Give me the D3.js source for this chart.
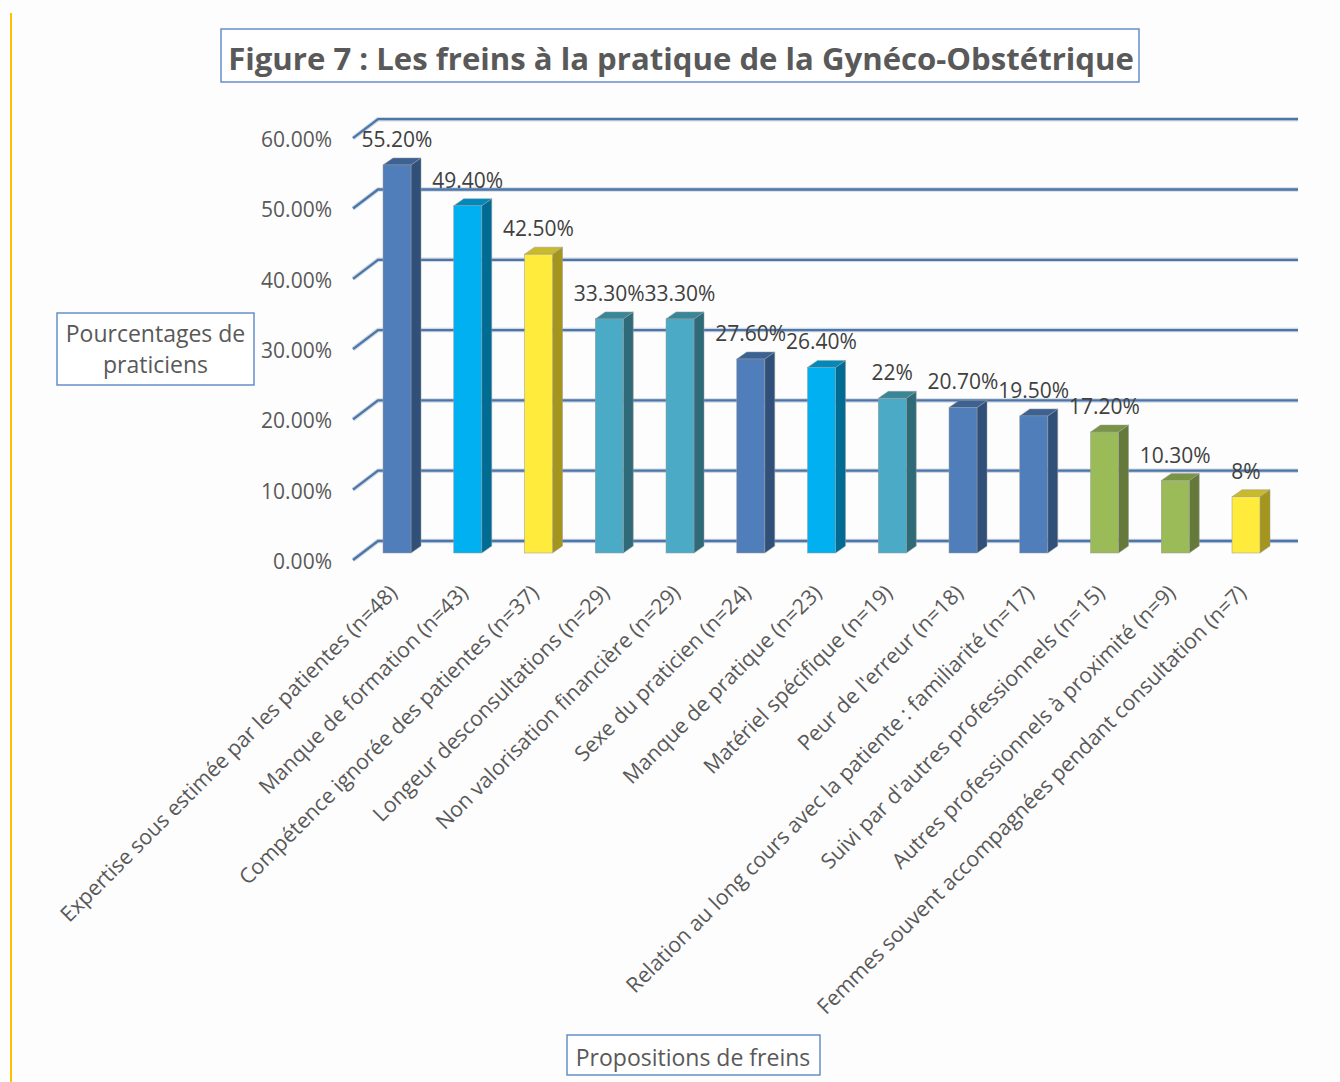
<!DOCTYPE html>
<html>
<head>
<meta charset="utf-8">
<script src="https://cdn.jsdelivr.net/npm/d3@7"></script>
<style>
  body { margin: 0; background: #fff; }
  svg { display: block; font-family: "Open Sans", sans-serif; }
</style>
</head>
<body>
<div id="viz"></div>
<script>
// Les freins à la pratique - 3D-looking column chart
var categories = [
  "Expertise sous estimée par les patientes (n=48)",
  "Manque de formation (n=43)",
  "Compétence ignorée des patientes (n=37)",
  "Longeur desconsultations (n=29)",
  "Non valorisation financière (n=29)",
  "Sexe du praticien (n=24)",
  "Manque de pratique (n=23)",
  "Matériel spécifique (n=19)",
  "Peur de l'erreur (n=18)",
  "Relation au long cours avec la patiente : familiarité (n=17)",
  "Suivi par d'autres professionnels (n=15)",
  "Autres professionnels à proximité (n=9)",
  "Femmes souvent accompagnées pendant consultation (n=7)"
];
var values = [55.2, 49.4, 42.5, 33.3, 33.3, 27.6, 26.4, 22, 20.7, 19.5, 17.2, 10.3, 8];
var valueLabels = ["55.20%", "49.40%", "42.50%", "33.30%", "33.30%", "27.60%", "26.40%",
                   "22%", "20.70%", "19.50%", "17.20%", "10.30%", "8%"];
var colorKeys = ["blue", "cyan", "yellow", "teal", "teal", "blue", "cyan",
                 "teal", "blue", "blue", "green", "green", "yellow"];
var yTicks = [0, 10, 20, 30, 40, 50, 60];

// front / top / side colours for each palette key
var palette = {
  blue:   ["#4F7EBB", "#3C6294", "#30507A"],
  cyan:   ["#00B0F0", "#0089BA", "#006C94"],
  yellow: ["#FFEB3B", "#C9B92C", "#A4951F"],
  teal:   ["#4BAAC6", "#3A8699", "#2E6A78"],
  green:  ["#9BBB59", "#7A9446", "#657A3A"]
};

var W = 1340, H = 1082;
var barW = 28, depthX = 10, depthY = 7;
var baseY = 553;

var svg = d3.select("#viz").append("svg").attr("width", W).attr("height", H);
svg.append("rect").attr("width", W).attr("height", H).attr("fill", "#fdfdfd");

// page margin line
svg.append("line")
  .attr("x1", 11).attr("x2", 11).attr("y1", 13).attr("y2", H)
  .attr("stroke", "#FFC000").attr("stroke-width", 2);

var y = d3.scaleLinear().domain([0, 60]).range([baseY, baseY - 60 * 7.03]);
var x = d3.scalePoint().domain(categories).range([397, 1246]);

// gridlines: small diagonal on the floor side + line on the back wall
var grid = svg.append("g");
yTicks.forEach(function(t) {
  var pts = [[353, y(t) + 7], [378, y(t) - 12], [1298, y(t) - 12]];
  grid.append("polyline").attr("points", pts.join(" "))
    .attr("fill", "none").attr("stroke", "#D3D8E0").attr("stroke-width", 4.5);
  grid.append("polyline").attr("points", pts.join(" "))
    .attr("fill", "none").attr("stroke", "#4A76AC").attr("stroke-width", 2.3);
});

// y axis tick labels
var yAxis = svg.append("g")
  .attr("transform", "translate(332,7)")
  .call(d3.axisLeft(y).tickValues(yTicks).tickSize(0).tickPadding(0)
    .tickFormat(function(d) { return d.toFixed(2) + "%"; }));
yAxis.select(".domain").remove();
yAxis.selectAll("text")
  .attr("font-family", "Open Sans").attr("font-size", 21)
  .attr("fill", "#595959").attr("dy", "0.4em");

// bars
var bars = svg.append("g").selectAll("g").data(categories).join("g");
bars.each(function(c, i) {
  var g = d3.select(this);
  var cx = x(c), top = y(values[i]);
  var col = palette[colorKeys[i]];
  var l = cx - barW / 2, r = cx + barW / 2;
  g.append("polygon")
    .attr("points", [[r, top], [r + depthX, top - depthY], [r + depthX, baseY - depthY], [r, baseY]].join(" "))
    .attr("fill", col[2]).attr("stroke", "#9a9a9a").attr("stroke-width", 0.5);
  g.append("polygon")
    .attr("points", [[l, top], [l + depthX, top - depthY], [r + depthX, top - depthY], [r, top]].join(" "))
    .attr("fill", col[1]).attr("stroke", "#9a9a9a").attr("stroke-width", 0.5);
  g.append("rect")
    .attr("x", l).attr("y", top).attr("width", barW).attr("height", baseY - top)
    .attr("fill", col[0]).attr("stroke", "#9a9a9a").attr("stroke-width", 0.5);
});

// value labels
svg.append("g").selectAll("text").data(categories).join("text")
  .attr("x", function(c) { return x(c); })
  .attr("y", function(c, i) { return y(values[i]) - 18; })
  .attr("text-anchor", "middle")
  .attr("font-size", 21).attr("fill", "#404040")
  .text(function(c, i) { return valueLabels[i]; });

// category labels
var xAxis = svg.append("g")
  .attr("transform", "translate(0,594)")
  .call(d3.axisBottom(x).tickSize(0).tickPadding(0));
xAxis.select(".domain").remove();
xAxis.selectAll("text")
  .attr("font-family", "Open Sans").attr("font-size", 21.3).attr("fill", "#595959")
  .attr("text-anchor", "end").attr("dy", 0)
  .attr("transform", "translate(1,0) rotate(-45)");

// boxed text helper
function boxText(lines, cx, baselines, size, weight, color, box) {
  svg.append("rect")
    .attr("x", box[0]).attr("y", box[1]).attr("width", box[2]).attr("height", box[3])
    .attr("fill", "#fff").attr("stroke", "#5B87C5").attr("stroke-width", 1.4);
  lines.forEach(function(t, k) {
    svg.append("text")
      .attr("x", cx).attr("y", baselines[k])
      .attr("text-anchor", "middle")
      .attr("font-size", size).attr("font-weight", weight).attr("fill", color)
      .text(t);
  });
}

// title (fit to the box width)
boxText([], 0, [], 0, 0, 0, [221, 29, 918, 53]);
var title = svg.append("text")
  .attr("x", 681).attr("y", 70).attr("text-anchor", "middle")
  .attr("font-size", 32).attr("font-weight", "bold").attr("fill", "#595959")
  .text("Figure 7 : Les freins à la pratique de la Gynéco-Obstétrique");
var tw = title.node().getComputedTextLength();
title.attr("font-size", 32 * 906 / tw);

boxText(["Pourcentages de", "praticiens"], 155.5, [342, 373], 23, "normal", "#595959", [57, 313, 197, 72]);
boxText(["Propositions de freins"], 693, [1066], 23, "normal", "#595959", [567, 1035, 253, 40]);
</script>
</body>
</html>
